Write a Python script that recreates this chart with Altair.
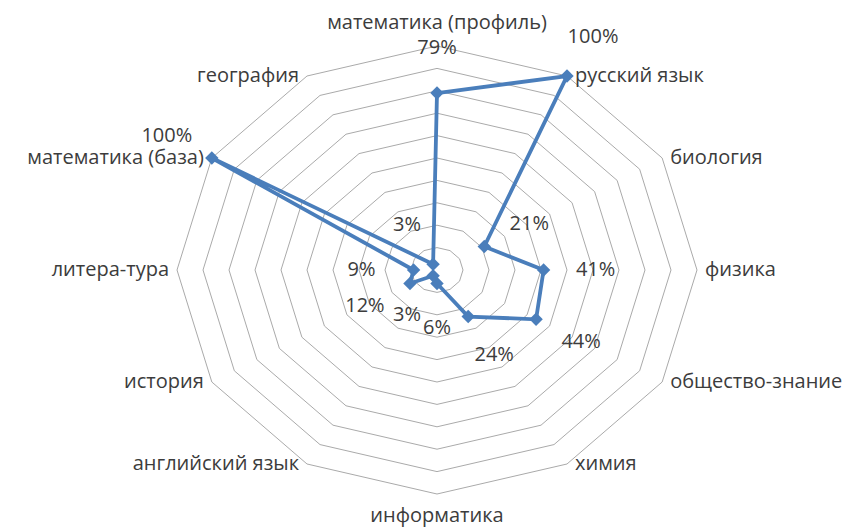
import altair as alt
import pandas as pd

# ---- data ----
subjects = [
    "математика (профиль)", "русский язык", "биология", "физика",
    "общество-знание", "химия", "информатика", "английский язык",
    "история", "литера-тура", "математика (база)", "география",
]
values = [79, 100, 21, 41, 44, 24, 6, 3, 12, 9, 100, 3]
value_labels = ["79%", "100%", "21%", "41%", "44%", "24%", "6%", "3%", "12%", "9%", "100%", "3%"]
ring_levels = [10, 20, 30, 40, 50, 60, 70, 80, 90, 100]

n = len(subjects)
half = n // 2

series = pd.DataFrame({
    "k": list(range(n + 1)),
    "subject": subjects + subjects[:1],
    "value": values + values[:1],
    "label": value_labels + value_labels[:1],
})
rings = pd.DataFrame(
    [{"level": lv, "k": k} for lv in ring_levels for k in range(n + 1)]
)
cats = pd.DataFrame({"k": list(range(n)), "subject": subjects})

ang = f"datum.k * 2 * PI / {n}"
X = alt.Scale(domain=[-100, 100], nice=False, zero=False)
Y = alt.Scale(domain=[-100, 100], nice=False, zero=False)
FONT = "Open Sans"
FS = 20
TXT = "#3c3c3c"
BLUE = "#4a7ebb"

ring_layer = alt.Chart(rings).transform_calculate(
    x=f"datum.level * sin({ang})", y=f"datum.level * cos({ang})"
).mark_line(color="#aaaaaa", strokeWidth=1).encode(
    x=alt.X("x:Q", scale=X, axis=None),
    y=alt.Y("y:Q", scale=Y, axis=None),
    detail="level:N",
    order="k:Q",
)

base = alt.Chart(series).transform_calculate(
    x=f"datum.value * sin({ang})", y=f"datum.value * cos({ang})",
    lx=f"(datum.value + 20) * sin({ang})", ly=f"(datum.value + 20) * cos({ang})",
)

line_layer = base.mark_line(color=BLUE, strokeWidth=3.8).encode(
    x=alt.X("x:Q", scale=X, axis=None),
    y=alt.Y("y:Q", scale=Y, axis=None),
    order="k:Q",
)

point_layer = base.transform_filter(f"datum.k < {n}").mark_point(
    shape="diamond", filled=True, size=180, color=BLUE, opacity=1
).encode(
    x=alt.X("x:Q", scale=X, axis=None),
    y=alt.Y("y:Q", scale=Y, axis=None),
)

vlabel_layer = base.transform_filter(f"datum.k < {n}").mark_text(
    font=FONT, fontSize=FS, color=TXT, align="center", baseline="middle"
).encode(
    x=alt.X("lx:Q", scale=X, axis=None),
    y=alt.Y("ly:Q", scale=Y, axis=None),
    text="label:N",
)

cbase = alt.Chart(cats).transform_calculate(
    x=f"100 * sin({ang})", y=f"100 * cos({ang})"
)
enc = dict(
    x=alt.X("x:Q", scale=X, axis=None),
    y=alt.Y("y:Q", scale=Y, axis=None),
    text="subject:N",
)
top_lab = cbase.transform_filter("datum.k == 0").mark_text(
    font=FONT, fontSize=FS, color=TXT, align="center", baseline="middle", dy=-23
).encode(**enc)
bot_lab = cbase.transform_filter(f"datum.k == {half}").mark_text(
    font=FONT, fontSize=FS, color=TXT, align="center", baseline="middle", dy=22
).encode(**enc)
right_lab = cbase.transform_filter(f"datum.k > 0 && datum.k < {half}").mark_text(
    font=FONT, fontSize=FS, color=TXT, align="left", baseline="middle", dx=8
).encode(**enc)
left_lab = cbase.transform_filter(f"datum.k > {half}").mark_text(
    font=FONT, fontSize=FS, color=TXT, align="right", baseline="middle", dx=-8
).encode(**enc)

chart = alt.layer(
    ring_layer, line_layer, point_layer, vlabel_layer,
    top_lab, bot_lab, right_lab, left_lab,
).properties(
    width=520,
    height=448,
    autosize=alt.AutoSizeParams(type="none"),
    padding={"left": 169, "top": 38, "right": 152, "bottom": 33},
    background="white",
).configure_view(stroke=None)

chart.save("out.html", embed_options={"renderer": "svg", "actions": False})
